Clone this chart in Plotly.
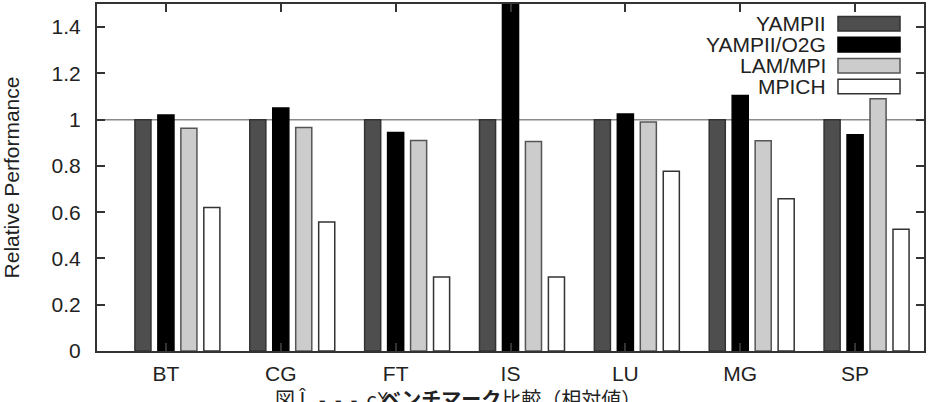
import plotly.graph_objects as go

categories = ["BT", "CG", "FT", "IS", "LU", "MG", "SP"]
series_names = ["YAMPII", "YAMPII/O2G", "LAM/MPI", "MPICH"]
yampii = [1.0, 1.0, 1.0, 1.0, 1.0, 1.0, 1.0]
yampii_o2g = [1.02, 1.05, 0.945, 1.75, 1.025, 1.105, 0.935]
lam_mpi = [0.963, 0.966, 0.91, 0.906, 0.99, 0.909, 1.09]
mpich = [0.62, 0.558, 0.32, 0.32, 0.777, 0.658, 0.526]
y_ticks = [0, 0.2, 0.4, 0.6, 0.8, 1.0, 1.2, 1.4]
NB = "\u00a0"
caption = ("図" + NB + "Î" + NB * 3 + "-" + NB * 2 + "-" + NB * 2 + "-" + NB * 2 + "č" + NB
           + "<b>ベンチマーク</b>比較（相対値）")

series_values = [yampii, yampii_o2g, lam_mpi, mpich]
fills = ["#4e4e4e", "#000000", "#cccccc", "#ffffff"]
edges = ["#333333", "#000000", "#555555", "#333333"]
offsets = [-0.27, -0.07, 0.13, 0.33]
xs = list(range(len(categories)))

FONT = "Liberation Sans, Arial, Helvetica, sans-serif"
FS = 21
fig = go.Figure()
for name, vals, fc, ec, off in zip(series_names, series_values, fills, edges, offsets):
    fig.add_trace(go.Bar(
        x=xs, y=vals, name=name, width=0.14, offset=off,
        marker=dict(color=fc, line=dict(color=ec, width=1.5)),
        showlegend=False,
    ))

# reference line at 1
fig.add_shape(type="line", xref="paper", yref="y", x0=0, x1=1, y0=1, y1=1,
              line=dict(color="#8a8a8a", width=1.5), layer="below")

# custom legend (text left of swatch)
leg_y = [0.943, 0.883, 0.822, 0.762]
for name, fc, ec, ly in zip(series_names, fills, edges, leg_y):
    fig.add_shape(type="rect", xref="paper", yref="paper",
                  x0=0.896, x1=0.971, y0=ly - 0.021, y1=ly + 0.021,
                  fillcolor=fc, line=dict(color=ec, width=1.5))
    fig.add_annotation(xref="paper", yref="paper", x=0.884, y=ly,
                       text=name, showarrow=False, xanchor="right", yanchor="middle",
                       font=dict(family=FONT, size=FS, color="#222222"))

fig.add_annotation(xref="paper", yref="paper", x=0.213, y=-0.088,
                   text=caption, showarrow=False, xanchor="left", yanchor="top",
                   font=dict(family="Noto Sans CJK JP", size=20, color="#222222"))

fig.update_layout(
    width=928, height=402,
    margin=dict(l=97, r=2, t=2, b=51),
    paper_bgcolor="white", plot_bgcolor="white",
    barmode="overlay",
    font=dict(family=FONT, size=FS, color="#222222"),
    xaxis=dict(range=[-0.6, 6.6], tickvals=xs, ticktext=categories,
               showgrid=False, zeroline=False, showline=True, linecolor="#333333",
               linewidth=2, mirror="ticks", ticks="inside", ticklen=8,
               tickcolor="#333333", tickwidth=1.5, ticklabelstandoff=3),
    yaxis=dict(range=[0, 1.5], tickvals=y_ticks,
               title=dict(text="Relative Performance", font=dict(size=FS), standoff=28),
               showgrid=False, zeroline=False, showline=True, linecolor="#333333",
               linewidth=2, mirror="ticks", ticks="inside", ticklen=8,
               tickcolor="#333333", tickwidth=1.5, ticklabelstandoff=10),
)

fig.write_html("out.html")
